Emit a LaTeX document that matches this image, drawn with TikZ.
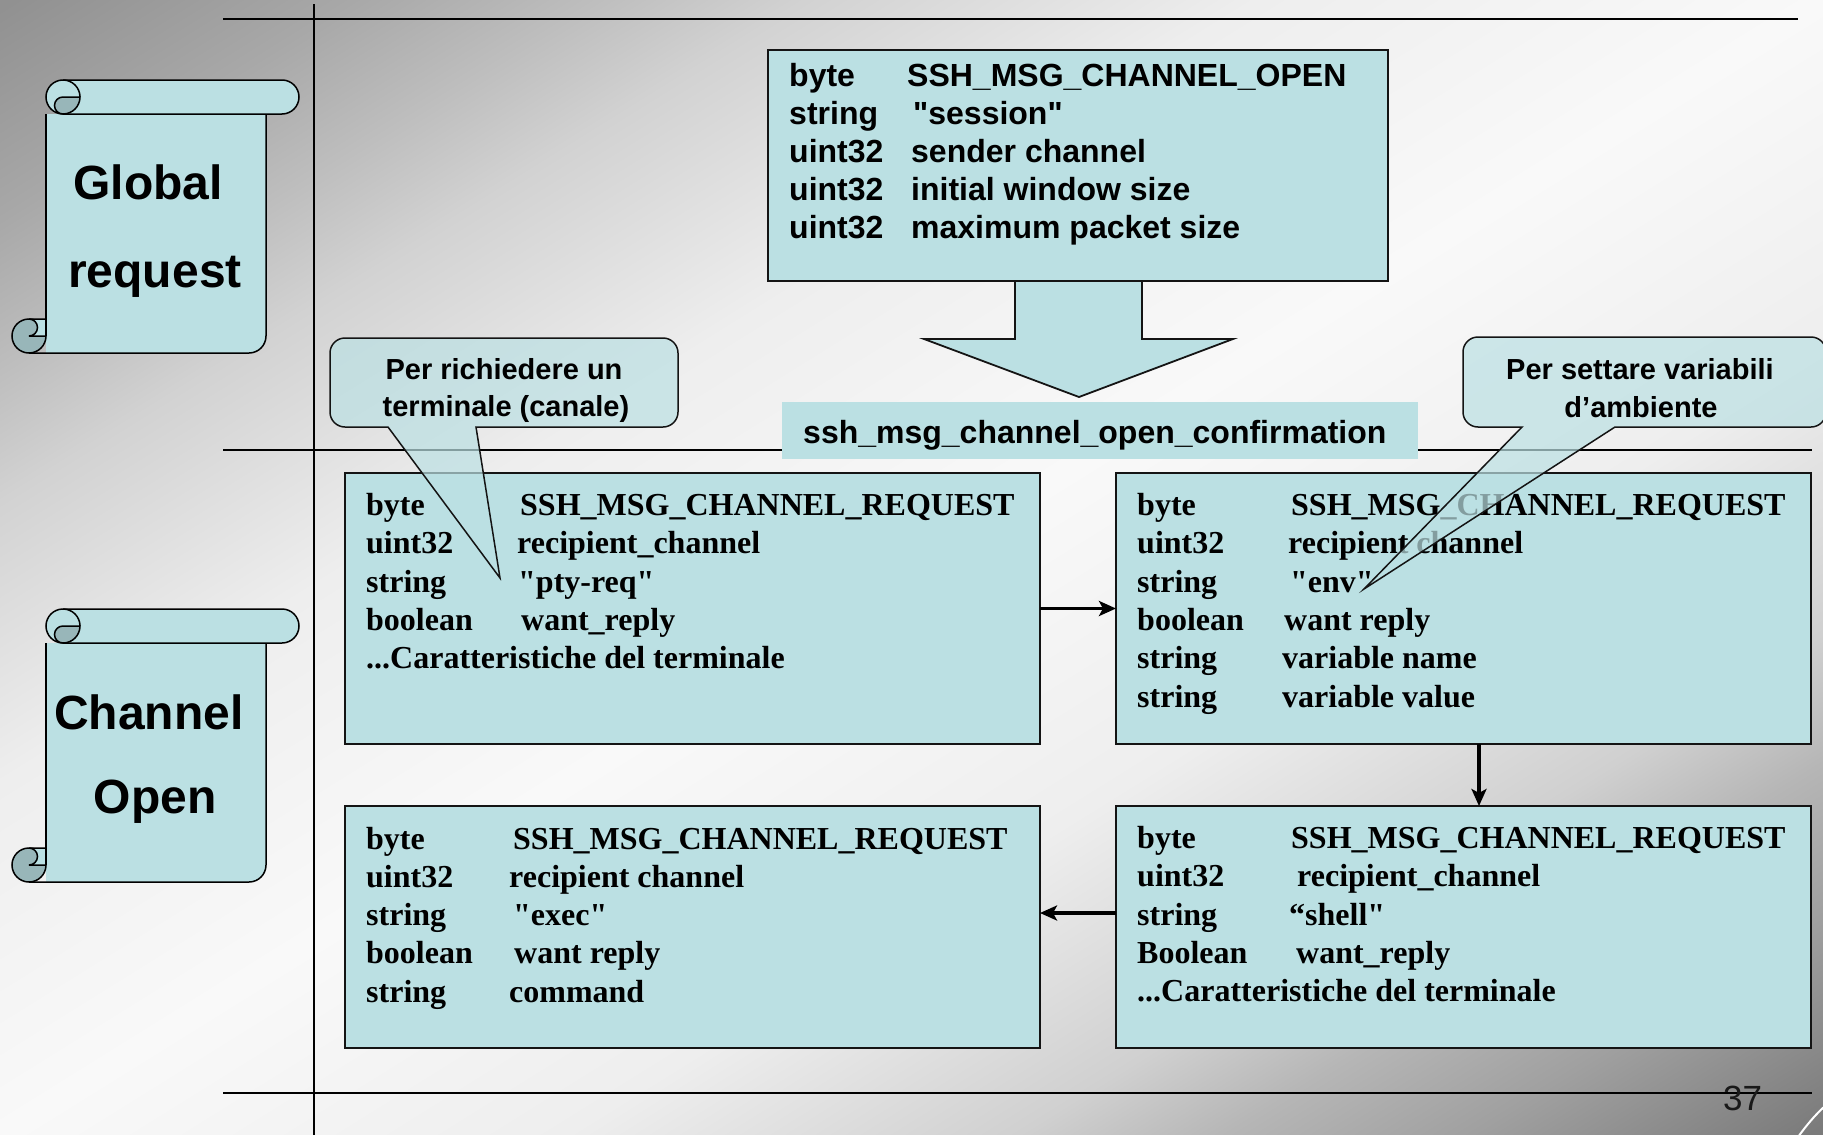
\documentclass[tikz,border=0pt]{standalone}
\usepackage{fontspec}
\setmainfont{Liberation Serif}
\newfontfamily\timesfont{Liberation Serif}
\newfontfamily\arialfont{Liberation Sans}
\usetikzlibrary{arrows.meta,calc}

\definecolor{boxfill}{RGB}{187,224,227}
\definecolor{curlfill}{RGB}{152,182,185}
\definecolor{edge}{RGB}{20,20,20}
\definecolor{bgA}{RGB}{123,123,123}
\definecolor{bgB}{RGB}{160,160,160}
\definecolor{bgC}{RGB}{182,182,182}
\definecolor{bgD}{RGB}{208,208,208}
\definecolor{bgE}{RGB}{238,238,238}
\definecolor{bgF}{RGB}{249,249,249}
\definecolor{bgG}{RGB}{238,238,238}
\definecolor{bgH}{RGB}{210,210,210}
\definecolor{bgI}{RGB}{190,190,190}
\definecolor{bgJ}{RGB}{168,168,168}
\definecolor{bgK}{RGB}{145,145,145}

% diagonal grey-white-grey slide background (middle square 25bp..75bp spans the fill area)
\pgfdeclareverticalshading{slidebg}{100bp}{color(0bp)=(bgA); color(26bp)=(bgA); color(30.5bp)=(bgB); color(33.75bp)=(bgC); color(36.5bp)=(bgD); color(42.5bp)=(bgE); color(50bp)=(bgF); color(57.5bp)=(bgG); color(63.5bp)=(bgH); color(66.25bp)=(bgI); color(69.5bp)=(bgJ); color(74bp)=(bgK); color(100bp)=(bgK)}

% one field row: label in a fixed-width slot, then the value
\newcommand\rw[3]{\makebox[#1pt][l]{#2}#3}

\tikzset{
  msgbox/.style={draw=edge, line width=1.8pt, fill=boxfill, rectangle, inner sep=0pt, outer sep=0pt, anchor=north west},
  fields/.style={anchor=base west, inner sep=0pt, font=\timesfont\bfseries\fontsize{32}{38.3}\selectfont},
  sansfields/.style={anchor=base west, inner sep=0pt, font=\arialfont\bfseries\fontsize{32}{38.1}\selectfont},
  flow/.style={draw=black, line width=3.5pt, -{Stealth[length=17pt,width=15pt,inset=4pt]}},
  rule/.style={draw=black, line width=2pt},
  callout/.style={draw=edge, line width=1.5pt, fill=boxfill, fill opacity=0.7},
  calltext/.style={font=\arialfont\bfseries\fontsize{29}{36}\selectfont, inner sep=0pt, anchor=base},
  scrolltext/.style={font=\arialfont\bfseries\fontsize{48}{58}\selectfont, inner sep=0pt, anchor=base},
  scrollline/.style={draw=black, line width=1.5pt},
}

% vertical scroll: sheet, top roll and bottom roll
\newcommand\scrollart{%
  \fill[boxfill] (46,114) -- (46,353) -- (249,353) arc[start angle=90,end angle=0,radius=17] -- (266,114) -- cycle;
  \draw[scrollline] (46,114) -- (46,336);
  \draw[scrollline] (29,353) -- (249,353) arc[start angle=90,end angle=0,radius=17] -- (266,114);
  \path[scrollline, fill=boxfill] (63,80) -- (282,80) arc[start angle=270,end angle=450,radius=17] -- (63,114) arc[start angle=90,end angle=270,radius=17] -- cycle;
  \path[scrollline, fill=curlfill] (63,97) -- (80,97) arc[start angle=0,end angle=90,radius=17] arc[start angle=90,end angle=270,radius=8.5] -- cycle;
  \draw[scrollline] (63,80) arc[start angle=270,end angle=360,radius=17];
  \path[scrollline, fill=curlfill] (29,336) circle[radius=17];
  \fill[boxfill] (29,319) -- (46,319) -- (46,336) -- (29,336) arc[start angle=90,end angle=-90,radius=8.5] -- cycle;
  \draw[scrollline] (46,319) -- (29,319) arc[start angle=270,end angle=450,radius=8.5] -- (46,336);
  \draw[scrollline] (46,319) -- (46,336);
}

\begin{document}
\begin{tikzpicture}[x=1pt,y=-1pt]
\useasboundingbox (0,0) rectangle (1823,1135);
\begin{scope}
  \clip (0,0) rectangle (1823,1135);
  \shade[shading=slidebg, shading angle=31.9] (-88.5,-432.5) rectangle (1911.5,1567.5);
\end{scope}

% layout rules
\draw[rule] (223,19) -- (1798,19);
\draw[rule] (223,450) -- (1812,450);
\draw[rule] (223,1093) -- (1812,1093);
\draw[black, line width=1.5pt] (314,4) -- (314,1135);

% section scrolls
\scrollart
\node[scrolltext] (glob1) at (148,199) {Global};
\node[scrolltext] (glob2) at (155,287) {request};
\begin{scope}[shift={(0,529)}]
  \scrollart
\end{scope}
\node[scrolltext] (chan1) at (149,729) {Channel};
\node[scrolltext] (chan2) at (155,813) {Open};

% channel open message and block arrow
\path[draw=edge, line width=1.8pt, fill=boxfill] (1015,275) -- (1015,339) -- (924,339) -- (1079,397) -- (1233,339) -- (1142,339) -- (1142,275);
\node[msgbox, minimum width=620pt, minimum height=231pt] (open) at (768,50) {};
\node[sansfields] (opentext) at (789,86.5) {\begin{tabular}[t]{@{}l@{}}
\rw{118}{byte}{SSH\_MSG\_CHANNEL\_OPEN}\\
\rw{124}{string}{"session"}\\
\rw{122}{uint32}{sender channel}\\
\rw{122}{uint32}{initial window size}\\
\rw{122}{uint32}{maximum packet size}
\end{tabular}};

\node[fill=boxfill, minimum width=636pt, minimum height=57pt, inner sep=0pt, anchor=north west] (conf) at (782,402) {};
\node[sansfields] (conftext) at (803,443) {ssh\_msg\_channel\_open\_confirmation};

% channel requests
\node[msgbox, minimum width=695pt, minimum height=271pt] (A) at (345,473) {};
\node[fields] (Atext) at (366,515.5) {\begin{tabular}[t]{@{}l@{}}
\rw{154}{byte}{SSH\_MSG\_CHANNEL\_REQUEST}\\
\rw{151}{uint32}{recipient\_channel}\\
\rw{152}{string}{"pty-req"}\\
\rw{155}{boolean}{want\_reply}\\
...Caratteristiche del terminale
\end{tabular}};

\node[msgbox, minimum width=695pt, minimum height=271pt] (B) at (1116,473) {};
\node[fields] (Btext) at (1137,515.5) {\begin{tabular}[t]{@{}l@{}}
\rw{154}{byte}{SSH\_MSG\_CHANNEL\_REQUEST}\\
\rw{151}{uint32}{recipient channel}\\
\rw{153}{string}{"env"}\\
\rw{147}{boolean}{want reply}\\
\rw{145}{string}{variable name}\\
\rw{145}{string}{variable value}
\end{tabular}};

\node[msgbox, minimum width=695pt, minimum height=242pt] (C) at (345,806) {};
\node[fields] (Ctext) at (366,849) {\begin{tabular}[t]{@{}l@{}}
\rw{147}{byte}{SSH\_MSG\_CHANNEL\_REQUEST}\\
\rw{143}{uint32}{recipient channel}\\
\rw{147}{string}{"exec"}\\
\rw{148}{boolean}{want reply}\\
\rw{143}{string}{command}
\end{tabular}};

\node[msgbox, minimum width=695pt, minimum height=242pt] (D) at (1116,806) {};
\node[fields] (Dtext) at (1137,848.5) {\begin{tabular}[t]{@{}l@{}}
\rw{154}{byte}{SSH\_MSG\_CHANNEL\_REQUEST}\\
\rw{160}{uint32}{recipient\_channel}\\
\rw{152}{string}{“shell"}\\
\rw{159}{Boolean}{want\_reply}\\
...Caratteristiche del terminale
\end{tabular}};

\draw[flow] (A.east) -- (B.west);
\draw[flow] ($(B.south)+(15.5,0)$) -- ($(D.north)+(15.5,0)$);
\draw[flow] ($(D.west)+(0,-14)$) -- ($(C.east)+(0,-14)$);

% callouts
\path[callout] (345,338) -- (663,338) arc[start angle=270,end angle=360,radius=15] -- (678,412) arc[start angle=0,end angle=90,radius=15] -- (476,427) -- (500,578) -- (388,427) -- (345,427) arc[start angle=90,end angle=180,radius=15] -- (330,353) arc[start angle=180,end angle=270,radius=15] -- cycle;
\node[calltext] (call1a) at (504,379) {Per richiedere un};
\node[calltext] (call1b) at (506,416) {terminale (canale)};

\path[callout] (1478,337) -- (1811,337) arc[start angle=270,end angle=360,radius=15] -- (1826,412) arc[start angle=0,end angle=90,radius=15] -- (1615,427) -- (1364,589) -- (1522,427) -- (1478,427) arc[start angle=90,end angle=180,radius=15] -- (1463,352) arc[start angle=180,end angle=270,radius=15] -- cycle;
\node[calltext] (call2a) at (1640,379) {Per settare variabili};
\node[calltext] (call2b) at (1641,417) {d’ambiente};

% page number and corner swoosh
\node[font=\arialfont\fontsize{35}{40}\selectfont, anchor=base west, inner sep=0pt, text=black!90] (pagenum) at (1723,1110) {37};
\draw[white, line width=2pt] (1798,1137) .. controls (1806,1126) and (1814,1116) .. (1825,1106);
\end{tikzpicture}
\end{document}
